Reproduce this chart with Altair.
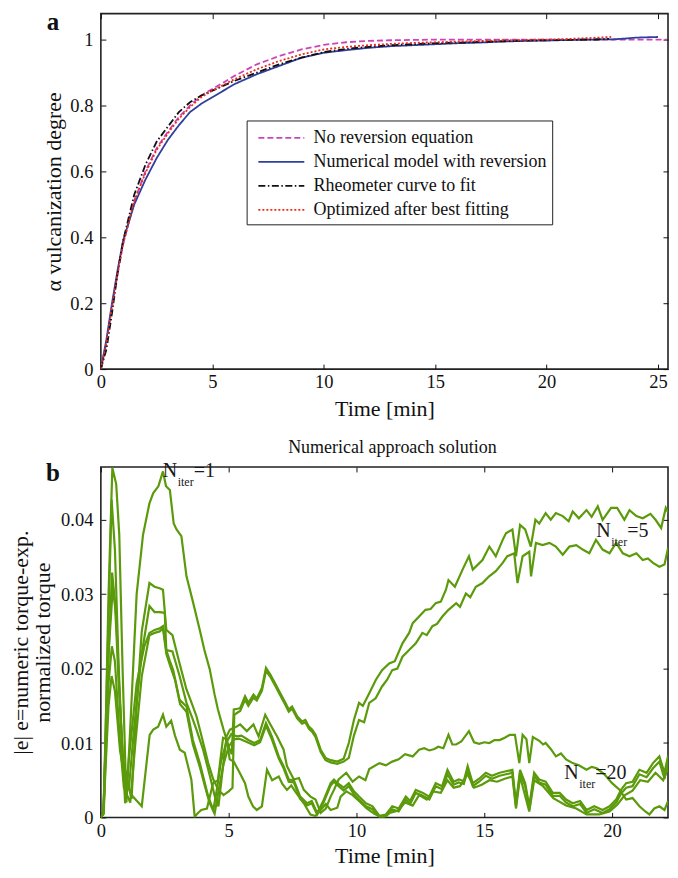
import altair as alt
import pandas as pd

FONT = "Liberation Serif, Times New Roman, Times, serif"
GREEN = "#5b9a0b"

# ---------------- panel a data ----------------
names_a = ["No reversion equation", "Numerical model with reversion",
           "Rheometer curve to fit", "Optimized after best fitting"]
colors_a = ["#cc44bb", "#2e3f9e", "#111111", "#ee2a1a"]
dashes_a = [[6, 3], [1, 0], [7, 2.5, 1.5, 2.5], [2, 2]]

t_norev = [0, 0.25, 0.5, 0.75, 1, 1.5, 2, 2.5, 3, 3.5, 4, 4.5, 5, 6, 7, 8, 9, 10, 11, 12, 13, 14, 15, 17, 20, 23, 25.4]
v_norev = [0, 0.08, 0.19, 0.29, 0.38, 0.51, 0.60, 0.67, 0.72, 0.765, 0.80, 0.83, 0.85, 0.89, 0.925, 0.95, 0.97, 0.984, 0.992, 0.996, 0.998, 0.999, 1.0, 1.0, 1.0, 1.0, 1.0]

t_model = [0, 0.25, 0.5, 0.75, 1, 1.5, 2, 2.5, 3, 3.5, 4, 4.5, 5, 6, 7, 8, 9, 10, 11, 12, 13, 14, 15, 16, 17, 18, 19, 20, 21, 22, 23, 23.5, 24, 25]
v_model = [0, 0.09, 0.20, 0.30, 0.39, 0.50, 0.575, 0.64, 0.695, 0.74, 0.78, 0.805, 0.825, 0.865, 0.895, 0.92, 0.945, 0.96, 0.968, 0.975, 0.98, 0.983, 0.986, 0.989, 0.991, 0.994, 0.996, 0.997, 0.999, 1.0, 1.001, 1.003, 1.006, 1.008]

t_rheo = [0, 0.25, 0.5, 0.75, 1, 1.5, 2, 2.5, 3, 3.5, 4, 4.5, 5, 6, 7, 8, 9, 10, 11, 12, 13, 14, 15, 16, 17, 18, 19, 20, 21, 22, 22.8]
v_rheo = [0, 0.06, 0.17, 0.29, 0.39, 0.53, 0.62, 0.69, 0.735, 0.78, 0.81, 0.83, 0.845, 0.875, 0.90, 0.925, 0.945, 0.962, 0.972, 0.978, 0.983, 0.986, 0.989, 0.991, 0.993, 0.995, 0.997, 0.998, 0.999, 1.0, 1.002]

t_opt = [0, 0.25, 0.5, 0.75, 1, 1.5, 2, 2.5, 3, 3.5, 4, 4.5, 5, 6, 7, 8, 9, 10, 11, 12, 13, 14, 15, 16, 17, 18, 19, 20, 21, 22, 22.9]
v_opt = [0, 0.08, 0.19, 0.29, 0.38, 0.51, 0.595, 0.665, 0.715, 0.76, 0.795, 0.825, 0.845, 0.88, 0.91, 0.935, 0.955, 0.97, 0.978, 0.983, 0.987, 0.99, 0.992, 0.994, 0.996, 0.998, 0.999, 1.0, 1.002, 1.005, 1.008]

xticks_a = [0, 5, 10, 15, 20, 25]
yticks_a = [0, 0.2, 0.4, 0.6, 0.8, 1.0]

# ---------------- panel b data ----------------
L1 = [(0, 0), (0.12, 0.001), (0.3, 0.03), (0.45, 0.0470), (0.6, 0.0448), (0.72, 0.038), (0.85, 0.02), (1.0, 0.002),
      (1.15, 0.012), (1.4, 0.03), (1.65, 0.038), (1.9, 0.0422), (2.05, 0.0436), (2.25, 0.0445), (2.43, 0.0465),
      (2.55, 0.0445), (2.7, 0.044), (2.85, 0.0395), (2.96, 0.0387), (3.15, 0.0378), (3.35, 0.0324), (3.6, 0.029),
      (3.87, 0.0252), (4.05, 0.0225), (4.26, 0.0199), (4.45, 0.0165), (4.58, 0.0145), (4.8, 0.0118), (5.04, 0.0091),
      (5.12, 0.0085), (5.2, 0.0145), (5.35, 0.0146), (5.45, 0.0147), (5.64, 0.0163), (5.77, 0.0154), (5.97, 0.0165),
      (6.1, 0.016), (6.3, 0.0174), (6.46, 0.0201), (6.63, 0.0192), (6.82, 0.018), (7.02, 0.0167), (7.22, 0.0154),
      (7.35, 0.0145), (7.48, 0.0149), (7.68, 0.0136), (7.87, 0.0129), (8.0, 0.0131), (8.14, 0.0122), (8.27, 0.0118),
      (8.4, 0.0111), (8.6, 0.0091), (8.79, 0.008), (8.99, 0.0077), (9.25, 0.0075), (9.5, 0.0079), (9.7, 0.0100),
      (9.9, 0.0131), (10.1, 0.0154), (10.25, 0.0150), (10.5, 0.0167), (10.76, 0.0185), (11.0, 0.0198), (11.28, 0.0207),
      (11.5, 0.0210), (11.8, 0.0234), (12.06, 0.0248), (12.2, 0.0261), (12.45, 0.027), (12.7, 0.0279), (12.9, 0.0280),
      (13.1, 0.0288), (13.3, 0.0290), (13.5, 0.0306), (13.6, 0.0319), (13.85, 0.031), (14.15, 0.0333), (14.4, 0.0351),
      (14.55, 0.0333), (14.93, 0.0346), (15.2, 0.0364), (15.45, 0.0351), (15.72, 0.0373), (15.85, 0.0382), (16.1, 0.0387),
      (16.24, 0.0351), (16.4, 0.0393), (16.6, 0.0387), (16.82, 0.0364), (17.0, 0.04), (17.15, 0.0395), (17.4, 0.0409),
      (17.6, 0.04), (17.8, 0.0409), (18.07, 0.0405), (18.3, 0.0398), (18.46, 0.0411), (18.7, 0.0402), (19.0, 0.0413),
      (19.2, 0.0404), (19.44, 0.0418), (19.63, 0.04), (19.96, 0.0416), (20.2, 0.0416), (20.48, 0.04), (20.68, 0.0413),
      (20.95, 0.0405), (21.2, 0.0402), (21.5, 0.0408), (21.7, 0.040), (21.92, 0.0389), (22.1, 0.0416), (22.19, 0.0410)]

L2 = [(0, 0), (0.1, 0.0005), (0.25, 0.02), (0.42, 0.0427), (0.55, 0.036), (0.7, 0.02), (0.85, 0.008), (1.2, 0.0025),
      (1.4, 0.015), (1.6, 0.025), (1.9, 0.0315), (2.1, 0.031), (2.3, 0.0308), (2.43, 0.0306), (2.56, 0.0252),
      (2.8, 0.0245), (3.08, 0.0207), (3.35, 0.0172), (3.55, 0.0154), (3.74, 0.0136), (3.94, 0.0109), (4.2, 0.0073),
      (4.4, 0.0051), (4.6, 0.0037), (4.8, 0.003), (5.0, 0.0035), (5.15, 0.004), (5.22, 0.0138), (5.35, 0.0141),
      (5.45, 0.0143), (5.64, 0.0158), (5.77, 0.0150), (5.97, 0.0161), (6.1, 0.0157), (6.3, 0.0170), (6.46, 0.0197),
      (6.63, 0.0189), (6.82, 0.0177), (7.02, 0.0164), (7.22, 0.0151), (7.35, 0.0142), (7.48, 0.0146), (7.68, 0.0133),
      (7.87, 0.0126), (8.0, 0.0128), (8.14, 0.0119), (8.27, 0.0115), (8.4, 0.0108), (8.6, 0.0088), (8.79, 0.0077),
      (8.99, 0.0074), (9.25, 0.0072), (9.5, 0.0075), (9.7, 0.0080), (9.9, 0.0110), (10.1, 0.0131), (10.3, 0.0128),
      (10.5, 0.0154), (10.75, 0.016), (11.0, 0.0176), (11.2, 0.0185), (11.4, 0.0198), (11.6, 0.0200), (11.8, 0.0216),
      (12.06, 0.0225), (12.32, 0.0234), (12.58, 0.0248), (12.75, 0.0245), (12.97, 0.0257), (13.15, 0.026), (13.36, 0.027),
      (13.6, 0.0279), (13.9, 0.0288), (14.05, 0.0283), (14.28, 0.0301), (14.45, 0.0296), (14.67, 0.031), (14.93, 0.0315),
      (15.19, 0.0324), (15.45, 0.0331), (15.72, 0.0342), (15.9, 0.0351), (16.17, 0.0355), (16.3, 0.0315), (16.5, 0.0351),
      (16.76, 0.0357), (16.83, 0.0324), (17.02, 0.0369), (17.28, 0.0366), (17.55, 0.0369), (17.8, 0.0364), (18.07, 0.0353),
      (18.33, 0.0364), (18.6, 0.0366), (18.85, 0.036), (19.11, 0.0355), (19.37, 0.0373), (19.63, 0.036), (19.9, 0.0355),
      (20.16, 0.0369), (20.42, 0.0355), (20.68, 0.0351), (20.95, 0.0355), (21.2, 0.0346), (21.4, 0.0348), (21.6, 0.0342),
      (21.85, 0.0337), (22.05, 0.0340), (22.19, 0.0362)]

L3 = [(0, 0), (0.1, 0.0005), (0.28, 0.02), (0.44, 0.0329), (0.55, 0.029), (0.7, 0.018), (0.9, 0.006), (1.1, 0.004),
      (1.3, 0.012), (1.6, 0.022), (1.9, 0.0284), (2.1, 0.0276), (2.3, 0.0276), (2.5, 0.0275), (2.56, 0.0225),
      (2.8, 0.0223), (3.08, 0.019), (3.35, 0.0154), (3.55, 0.0136), (3.74, 0.0118), (4.0, 0.0091), (4.27, 0.0055),
      (4.46, 0.0028), (4.6, 0.0015), (4.75, 0.006), (4.92, 0.0109), (5.05, 0.0118), (5.31, 0.0122), (5.45, 0.0125),
      (5.71, 0.0116), (5.97, 0.0125), (6.17, 0.0109), (6.43, 0.0138), (6.6, 0.0127), (6.89, 0.0109), (7.15, 0.0091),
      (7.28, 0.0069), (7.55, 0.0051), (7.75, 0.0053), (7.94, 0.0037), (8.2, 0.0028), (8.4, 0.0024), (8.6, 0.0006),
      (8.8, 0.0012), (8.99, 0.0028), (9.12, 0.0037), (9.3, 0.0051), (9.6, 0.006), (9.85, 0.0048), (10.1, 0.0055),
      (10.35, 0.005), (10.5, 0.0065), (10.9, 0.0073), (11.15, 0.007), (11.4, 0.0075), (11.65, 0.0078), (11.9, 0.0085),
      (12.2, 0.0082), (12.45, 0.0091), (12.65, 0.0093), (12.85, 0.009), (13.05, 0.0092), (13.2, 0.0095), (13.4, 0.0093),
      (13.6, 0.0111), (13.75, 0.0098), (13.9, 0.0098), (14.1, 0.0102), (14.4, 0.0116), (14.6, 0.0101), (14.8, 0.0099),
      (15.0, 0.0101), (15.2, 0.0100), (15.4, 0.0104), (15.6, 0.0104), (15.8, 0.0107), (16.0, 0.0111), (16.2, 0.0111),
      (16.37, 0.0073), (16.5, 0.0111), (16.65, 0.0105), (16.76, 0.0073), (16.9, 0.0108), (17.15, 0.0103), (17.3, 0.0098),
      (17.4, 0.01), (17.6, 0.0092), (17.8, 0.0082), (18.0, 0.0086), (18.2, 0.0078), (18.46, 0.0073), (18.7, 0.0070),
      (19.0, 0.0064), (19.2, 0.0068), (19.4, 0.0066), (19.7, 0.0058), (20.0, 0.0046), (20.3, 0.0037), (20.55, 0.0024),
      (20.8, 0.0026), (21.07, 0.0015), (21.3, 0.0008), (21.46, 0.0004), (21.65, 0.0012), (21.85, 0.0015), (22.05, 0.0010),
      (22.19, 0.0022)]

L4 = [(0, 0), (0.1, 0.0005), (0.3, 0.022), (0.47, 0.031), (0.6, 0.027), (0.75, 0.015), (0.95, 0.0019), (1.1, 0.008),
      (1.4, 0.018), (1.7, 0.023), (1.9, 0.0248), (2.1, 0.0252), (2.3, 0.0254), (2.43, 0.0257), (2.56, 0.0225),
      (2.7, 0.021), (2.83, 0.0198), (3.08, 0.0158), (3.35, 0.0149), (3.6, 0.0104), (3.87, 0.0073), (4.07, 0.0046),
      (4.2, 0.0028), (4.4, 0.001), (4.55, 0.004), (4.7, 0.0075), (4.9, 0.0100), (5.1, 0.0112), (5.31, 0.0109),
      (5.5, 0.0110), (5.77, 0.0104), (6.0, 0.0100), (6.23, 0.0104), (6.46, 0.0127), (6.69, 0.0109), (6.96, 0.0082),
      (7.15, 0.0069), (7.35, 0.0051), (7.55, 0.0050), (7.8, 0.0028), (8.07, 0.0019), (8.25, 0.0022), (8.46, 0.0006),
      (8.7, 0.0022), (8.99, 0.0046), (9.12, 0.0051), (9.3, 0.0045), (9.5, 0.0040), (9.7, 0.0046), (9.9, 0.0035),
      (10.1, 0.0028), (10.37, 0.0019), (10.63, 0.0015), (10.9, 0.0002), (11.15, 0.0004), (11.4, 0.0015), (11.65, 0.0012),
      (11.93, 0.0028), (12.1, 0.0022), (12.32, 0.0037), (12.6, 0.0033), (12.85, 0.0028), (13.1, 0.0046), (13.35, 0.0042),
      (13.56, 0.0064), (13.8, 0.0048), (14.0, 0.0051), (14.2, 0.0049), (14.35, 0.0069), (14.55, 0.0046), (14.8, 0.0052),
      (15.06, 0.006), (15.3, 0.0056), (15.6, 0.006), (15.85, 0.0062), (16.1, 0.0064), (16.24, 0.0019), (16.4, 0.0064),
      (16.6, 0.0046), (16.76, 0.0015), (16.95, 0.0060), (17.15, 0.0051), (17.4, 0.0048), (17.68, 0.0033), (17.95, 0.0033),
      (18.2, 0.0024), (18.46, 0.0019), (18.75, 0.0022), (19.0, 0.001), (19.3, 0.0015), (19.63, 0.001), (19.9, 0.0015),
      (20.16, 0.0024), (20.35, 0.0037), (20.55, 0.0046), (20.8, 0.0048), (21.07, 0.0064), (21.35, 0.006), (21.6, 0.0073),
      (21.85, 0.0082), (22.05, 0.006), (22.19, 0.0083)]

L5 = [(0, 0), (0.1, 0.0005), (0.3, 0.018), (0.43, 0.023), (0.55, 0.021), (0.75, 0.01), (0.9, 0.004), (1.15, 0.002),
      (1.35, 0.01), (1.6, 0.019), (1.9, 0.0245), (2.1, 0.0248), (2.3, 0.0250), (2.43, 0.0254), (2.56, 0.022),
      (2.7, 0.0205), (2.9, 0.0185), (3.1, 0.0152), (3.35, 0.0142), (3.6, 0.0098), (3.87, 0.0068), (4.07, 0.0042),
      (4.25, 0.0020), (4.45, 0.0005), (4.6, 0.0035), (4.8, 0.0072), (5.0, 0.0095), (5.2, 0.0105), (5.4, 0.0106),
      (5.6, 0.0103), (5.8, 0.0100), (6.0, 0.0097), (6.23, 0.0101), (6.46, 0.0123), (6.69, 0.0105), (6.96, 0.0079),
      (7.15, 0.0066), (7.35, 0.0048), (7.55, 0.0047), (7.8, 0.0025), (8.07, 0.0016), (8.25, 0.0019), (8.46, 0.0004),
      (8.7, 0.0019), (8.99, 0.0043), (9.12, 0.0048), (9.3, 0.0042), (9.5, 0.0036), (9.7, 0.0042), (9.9, 0.0031),
      (10.1, 0.0024), (10.37, 0.0015), (10.63, 0.0011), (10.9, 0.0), (11.15, 0.0001), (11.4, 0.0011), (11.65, 0.0008),
      (11.93, 0.0024), (12.1, 0.0018), (12.32, 0.0033), (12.6, 0.0029), (12.85, 0.0024), (13.1, 0.0042), (13.35, 0.0038),
      (13.56, 0.0058), (13.8, 0.0044), (14.0, 0.0047), (14.2, 0.0045), (14.35, 0.0064), (14.55, 0.0042), (14.8, 0.0048),
      (15.06, 0.0056), (15.3, 0.0052), (15.6, 0.0056), (15.85, 0.0058), (16.1, 0.006), (16.24, 0.0015), (16.4, 0.006),
      (16.6, 0.0042), (16.76, 0.0011), (16.95, 0.0056), (17.15, 0.0047), (17.4, 0.0044), (17.68, 0.0029), (17.95, 0.0029),
      (18.2, 0.0020), (18.46, 0.0015), (18.75, 0.0018), (19.0, 0.0006), (19.3, 0.0011), (19.63, 0.0006), (19.9, 0.0011),
      (20.16, 0.0020), (20.35, 0.0032), (20.55, 0.0040), (20.8, 0.0042), (21.07, 0.0058), (21.35, 0.0054), (21.6, 0.0066),
      (21.85, 0.0075), (22.05, 0.0052), (22.19, 0.0076)]

L6 = [(0, 0), (0.1, 0.0005), (0.3, 0.015), (0.42, 0.019), (0.55, 0.017), (0.75, 0.009), (0.95, 0.005), (1.2, 0.003),
      (1.6, 0.0015), (1.91, 0.0111), (2.05, 0.0118), (2.24, 0.0122), (2.43, 0.0138), (2.56, 0.0122), (2.75, 0.013),
      (2.9, 0.011), (3.09, 0.0091), (3.28, 0.0087), (3.54, 0.0051), (3.67, 0.0001), (3.8, 0.0006), (3.93, 0.001),
      (4.15, 0.0012), (4.39, 0.0046), (4.58, 0.005), (4.78, 0.0107), (4.92, 0.0105), (5.04, 0.0078), (5.2, 0.0075),
      (5.4, 0.0062), (5.64, 0.0046), (5.77, 0.0028), (5.95, 0.0015), (6.1, 0.001), (6.3, 0.0015), (6.5, 0.0064),
      (6.7, 0.005), (6.96, 0.0055), (7.1, 0.0045), (7.28, 0.0037), (7.45, 0.0043), (7.6, 0.0035), (7.94, 0.0019),
      (8.2, 0.0004), (8.4, 0.0002), (8.6, 0.001), (8.8, 0.0018), (8.99, 0.001), (9.25, 0.0013), (9.38, 0.0028),
      (9.6, 0.0035), (9.85, 0.003), (10.1, 0.0022), (10.4, 0.0012), (10.7, 0.0005), (11.0, 0.0), (11.3, 0.0006),
      (11.6, 0.0009), (11.9, 0.0020), (12.2, 0.0016), (12.45, 0.0030), (12.75, 0.0024), (13.0, 0.0035), (13.3, 0.0033),
      (13.56, 0.0050), (13.8, 0.0040), (14.05, 0.0042), (14.35, 0.0058), (14.6, 0.0040), (14.9, 0.0044), (15.2, 0.0050),
      (15.5, 0.0048), (15.8, 0.0052), (16.1, 0.0055), (16.24, 0.0012), (16.4, 0.0055), (16.76, 0.0008), (16.95, 0.005),
      (17.3, 0.0042), (17.7, 0.0026), (18.2, 0.0016), (18.6, 0.0012), (19.0, 0.0004), (19.5, 0.0004), (19.9, 0.0008),
      (20.2, 0.0017), (20.5, 0.0030), (20.8, 0.0036), (21.1, 0.0050), (21.4, 0.0048), (21.7, 0.0060), (22.0, 0.0050),
      (22.19, 0.0066)]

ann_t = [2.42, 19.38, 18.13]
ann_v = [0.0458, 0.0377, 0.0052]
ann_k = ["1", "5", "20"]

title_b = "Numerical approach solution"
xticks_b = [0, 5, 10, 15, 20]
yticks_b = [0, 0.01, 0.02, 0.03, 0.04]

# ---------------- build tables ----------------
rows = []
for name, ts, vs in [(names_a[0], t_norev, v_norev), (names_a[1], t_model, v_model),
                     (names_a[2], t_rheo, v_rheo), (names_a[3], t_opt, v_opt)]:
    for t, v in zip(ts, vs):
        rows.append({"series": name, "t": t, "v": v})
df_a = pd.DataFrame(rows)

rows = []
for i, L in enumerate([L1, L2, L3, L4, L5, L6]):
    for t, v in L:
        rows.append({"line": f"L{i+1}", "t": t, "v": v})
df_b = pd.DataFrame(rows)

df_ann = pd.DataFrame({"t": ann_t, "v": ann_v, "N": ["N"] * 3, "sub": ["iter"] * 3,
                       "eq": ["=" + k for k in ann_k]})

frame_df_a = pd.DataFrame({"t": xticks_a, "v": yticks_a})
frame_df_b = pd.DataFrame({"t": xticks_b, "v": yticks_b})

W = 568
HA = 356


def inward(orient, values, title=None, label_pad=0, title_pad=0, label_expr=None, show_labels=True):
    kw = dict(orient=orient, values=values, offset=-5, tickSize=5, domain=False, grid=False,
              labelFlush=False, labelOverlap=False, tickColor="#111", minExtent=0,
              labelFont=FONT, titleFont=FONT, labelFontSize=18.5, titleFontSize=22,
              labelColor="#111", titleColor="#111", titleFontWeight="normal", titleLineHeight=22)
    if show_labels:
        kw.update(labelPadding=label_pad, titlePadding=title_pad, title=title)
        if label_expr:
            kw["labelExpr"] = label_expr
    else:
        kw.update(labels=False, title=None)
    return alt.Axis(**kw)


# ---------------- panel a ----------------
xs_a = alt.Scale(domain=[0, W / 22.32], nice=False, zero=False)
ys_a = alt.Scale(domain=[0, HA / 330], nice=False)

leg = alt.Legend(title=None, orient="none", legendX=146, legendY=107, labelFont=FONT, labelFontSize=18,
                 labelColor="#111", symbolType="M-0.5,0H3.5", symbolSize=529, symbolStrokeWidth=1.8,
                 strokeColor="#222", fillColor="white", padding=5, rowPadding=2, labelOffset=37,
                 labelLimit=400)

lines_a = alt.Chart(df_a).mark_line(strokeWidth=1.8, clip=True).encode(
    x=alt.X("t:Q", scale=xs_a, axis=inward("bottom", xticks_a, "Time [min]", 3, 8)),
    y=alt.Y("v:Q", scale=ys_a, axis=inward("left", yticks_a, "α vulcanization degree", 8, 4,
                                            "format(datum.value, '~g')")),
    color=alt.Color("series:N", scale=alt.Scale(domain=names_a, range=colors_a), legend=leg),
    strokeDash=alt.StrokeDash("series:N", scale=alt.Scale(domain=names_a, range=dashes_a), legend=leg),
)
frame_a = alt.Chart(frame_df_a).mark_point(opacity=0, size=1, clip=True).encode(
    x=alt.X("t:Q", scale=xs_a, axis=inward("top", xticks_a, show_labels=False)),
    y=alt.Y("v:Q", scale=ys_a, axis=inward("right", yticks_a, show_labels=False)),
)
label_a = alt.Chart(pd.DataFrame({"lab": ["a"]})).mark_text(
    font=FONT, fontSize=25, fontWeight="bold", align="center", baseline="alphabetic", color="#111"
).encode(text="lab:N", x=alt.value(-48), y=alt.value(16))

chart_a = alt.layer(lines_a, frame_a, label_a).resolve_axis(
    x="independent", y="independent").properties(width=W, height=HA)

# ---------------- panel b ----------------
xs_b = alt.Scale(domain=[0, W / 25.6], nice=False, zero=False)
ys_b = alt.Scale(domain=[0, 0.0471], nice=False)

lines_b = alt.Chart(df_b).mark_line(strokeWidth=2.2, color=GREEN, clip=True).encode(
    x=alt.X("t:Q", scale=xs_b, axis=inward("bottom", xticks_b, "Time [min]", 4, 6)),
    y=alt.Y("v:Q", scale=ys_b, axis=inward("left", yticks_b,
                                            ["|e| e=numeric torque-exp.", "normalized torque"], 8, 6,
                                            "datum.value == 0 ? '0' : format(datum.value, '.2f')")),
    detail="line:N",
)
frame_b = alt.Chart(frame_df_b).mark_point(opacity=0, size=1, clip=True).encode(
    x=alt.X("t:Q", scale=xs_b, axis=inward("top", xticks_b, show_labels=False)),
    y=alt.Y("v:Q", scale=ys_b, axis=inward("right", yticks_b, show_labels=False)),
)
ann_base = alt.Chart(df_ann).encode(
    x=alt.X("t:Q", scale=xs_b, axis=None),
    y=alt.Y("v:Q", scale=ys_b, axis=None),
)
txt_N = ann_base.mark_text(font=FONT, fontSize=20, align="left", baseline="alphabetic",
                           color="#1a1a1a").encode(text="N:N")
txt_sub = ann_base.mark_text(font=FONT, fontSize=12, align="left", baseline="alphabetic",
                             color="#1a1a1a", dx=15, dy=9).encode(text="sub:N")
txt_eq = ann_base.mark_text(font=FONT, fontSize=20, align="left", baseline="alphabetic",
                            color="#1a1a1a", dx=31).encode(text="eq:N")
label_b = alt.Chart(pd.DataFrame({"lab": ["b"]})).mark_text(
    font=FONT, fontSize=25, fontWeight="bold", align="center", baseline="alphabetic", color="#111"
).encode(text="lab:N", x=alt.value(-48), y=alt.value(14.5))
head_b = alt.Chart(pd.DataFrame({"lab": [title_b]})).mark_text(
    font=FONT, fontSize=18, align="center", baseline="alphabetic", color="#111"
).encode(text="lab:N", x=alt.value(292), y=alt.value(-14))

chart_b = alt.layer(lines_b, frame_b, txt_N, txt_sub, txt_eq, label_b, head_b).resolve_axis(
    x="independent", y="independent").properties(width=W, height=351)

chart = alt.vconcat(chart_a, chart_b, spacing=17).properties(padding=0).configure(
    font=FONT
).configure_axis(
    labelFont=FONT, titleFont=FONT
).configure_legend(
    labelFont=FONT, titleFont=FONT
).configure_view(stroke="#222", strokeWidth=1.6)

chart.save("out.html", embed_options={"renderer": "svg", "actions": False})
